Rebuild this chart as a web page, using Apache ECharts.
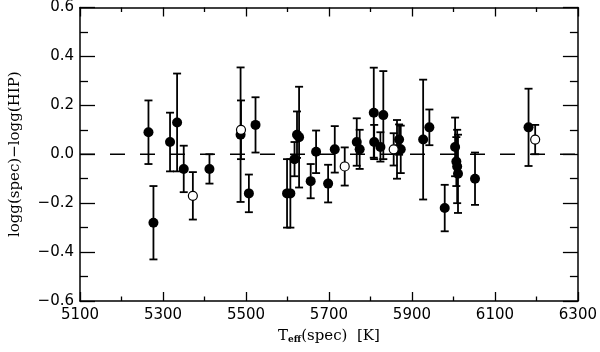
<!DOCTYPE html>
<html><head><meta charset="utf-8">
<script src="https://cdn.jsdelivr.net/npm/echarts@6/dist/echarts.min.js"></script>
<style>html,body{margin:0;padding:0;background:#fff}#c{width:600px;height:352px}</style>
</head><body><div id="c"></div>
<script>
// Filled circles
var teffFilled = [5265, 5277, 5317, 5334, 5350, 5412, 5487, 5507, 5523, 5599, 5607, 5617, 5623, 5628, 5656, 5669, 5698, 5714, 5767, 5774, 5808, 5809, 5824, 5831, 5864, 5869, 5873, 5927, 5942, 5979, 6004, 6007, 6009, 6011, 6052, 6181];
var dloggFilled = [0.09, -0.28, 0.05, 0.13, -0.06, -0.06, 0.08, -0.16, 0.12, -0.16, -0.16, -0.02, 0.08, 0.07, -0.11, 0.01, -0.12, 0.02, 0.05, 0.02, 0.17, 0.05, 0.03, 0.16, 0.02, 0.06, 0.02, 0.06, 0.11, -0.22, 0.03, -0.03, -0.05, -0.08, -0.10, 0.11];
var errFilled = [0.13, 0.15, 0.12, 0.20, 0.095, 0.06, 0.275, 0.077, 0.113, 0.14, 0.14, 0.07, 0.095, 0.206, 0.07, 0.087, 0.077, 0.095, 0.097, 0.08, 0.184, 0.07, 0.06, 0.18, 0.12, 0.062, 0.097, 0.245, 0.073, 0.095, 0.12, 0.10, 0.15, 0.16, 0.107, 0.158];
// Open circles
var teffOpen = [5372, 5488, 5738, 5856, 6197];
var dloggOpen = [-0.17, 0.10, -0.05, 0.02, 0.06];
var errOpen = [0.097, 0.12, 0.078, 0.066, 0.06];
// Axes
var xMin = 5100, xMax = 6300, xStep = 200;
var yMin = -0.6, yMax = 0.6, yStep = 0.2;

function pts(t, d, e) { return t.map(function (v, i) { return [v, d[i], e[i]]; }); }
var filled = pts(teffFilled, dloggFilled, errFilled);
var open = pts(teffOpen, dloggOpen, errOpen);
var allPts = filled.concat(open);

function fmtY(v) {
  var s = Math.abs(v).toFixed(1);
  return (v < -1e-9 ? '\u2212' : '') + s;
}

var chart = echarts.init(document.getElementById('c'), null, { renderer: 'canvas' });
var axLine = { show: true, onZero: false, lineStyle: { color: '#000', width: 1.5 } };
var lblFont = { color: '#000', fontFamily: 'DejaVu Sans', fontSize: 15 };

function renderErr(params, api) {
  var x = api.value(0), y = api.value(1), e = api.value(2);
  var top = api.coord([x, y + e]), bot = api.coord([x, y - e]);
  var w = 4;
  var st = { stroke: '#000', lineWidth: 1.8 };
  return {
    type: 'group',
    children: [
      { type: 'line', shape: { x1: top[0], y1: top[1], x2: bot[0], y2: bot[1] }, style: st },
      { type: 'line', shape: { x1: top[0] - w, y1: top[1], x2: top[0] + w, y2: top[1] }, style: st },
      { type: 'line', shape: { x1: bot[0] - w, y1: bot[1], x2: bot[0] + w, y2: bot[1] }, style: st }
    ]
  };
}

chart.setOption({
  animation: false,
  backgroundColor: '#fff',
  grid: { left: 76, right: 21, top: 5, bottom: 51 },
  xAxis: [{
    type: 'value', min: xMin, max: xMax, interval: xStep, position: 'bottom',
    axisLine: axLine,
    axisTick: { show: true, inside: true, length: 9, lineStyle: { color: '#000', width: 1.3 } },
    minorTick: { show: true, splitNumber: 2, length: 4.5, lineStyle: { color: '#000', width: 1.3 } },
    splitLine: { show: false },
    axisLabel: Object.assign({ margin: 7, formatter: function (v) { return String(v); } }, lblFont),
    name: '{t|T}{s|eff}{t|(spec)  [K]}', nameLocation: 'middle', nameGap: 27,
    nameTextStyle: {
      rich: {
        t: { fontFamily: 'DejaVu Serif', fontSize: 15, color: '#000' },
        s: { fontFamily: 'DejaVu Serif', fontSize: 9, fontWeight: 'bold', color: '#000', verticalAlign: 'bottom', padding: [7, 0, 0, 0] }
      }
    }
  }, {
    type: 'value', min: xMin, max: xMax, interval: xStep, position: 'top',
    axisLine: axLine,
    axisTick: { show: true, inside: true, length: 9, lineStyle: { color: '#000', width: 1.3 } },
    minorTick: { show: true, splitNumber: 2, length: 4.5, lineStyle: { color: '#000', width: 1.3 } },
    splitLine: { show: false }, axisLabel: { show: false }
  }],
  yAxis: [{
    type: 'value', min: yMin, max: yMax, interval: yStep, position: 'left',
    axisLine: axLine,
    axisTick: { show: true, inside: true, length: 15, lineStyle: { color: '#000', width: 1.3 } },
    minorTick: { show: true, splitNumber: 2, length: 8, lineStyle: { color: '#000', width: 1.3 } },
    splitLine: { show: false },
    axisLabel: Object.assign({ margin: 6, formatter: fmtY }, lblFont),
    name: 'logg(spec)\u2212logg(HIP)', nameLocation: 'middle', nameGap: 57,
    nameTextStyle: { fontFamily: 'DejaVu Serif', fontSize: 15, color: '#000' }
  }, {
    type: 'value', min: yMin, max: yMax, interval: yStep, position: 'right',
    axisLine: axLine,
    axisTick: { show: true, inside: true, length: 15, lineStyle: { color: '#000', width: 1.3 } },
    minorTick: { show: true, splitNumber: 2, length: 8, lineStyle: { color: '#000', width: 1.3 } },
    splitLine: { show: false }, axisLabel: { show: false }
  }],
  series: [
    {
      type: 'line', data: [[xMin, 0], [xMax, 0]], symbol: 'none', silent: true,
      lineStyle: { color: '#000', width: 1.5, type: [15, 15] }, z: 1
    },
    { type: 'custom', renderItem: renderErr, data: allPts, encode: { x: 0, y: 1 }, z: 2, silent: true },
    {
      type: 'scatter', data: filled, symbol: 'circle', symbolSize: 10,
      itemStyle: { color: '#000', opacity: 1 }, z: 3
    },
    {
      type: 'scatter', data: open, symbol: 'circle', symbolSize: 9,
      itemStyle: { color: '#fff', borderColor: '#000', borderWidth: 1.2, opacity: 1 }, z: 4
    }
  ]
});
</script></body></html>
